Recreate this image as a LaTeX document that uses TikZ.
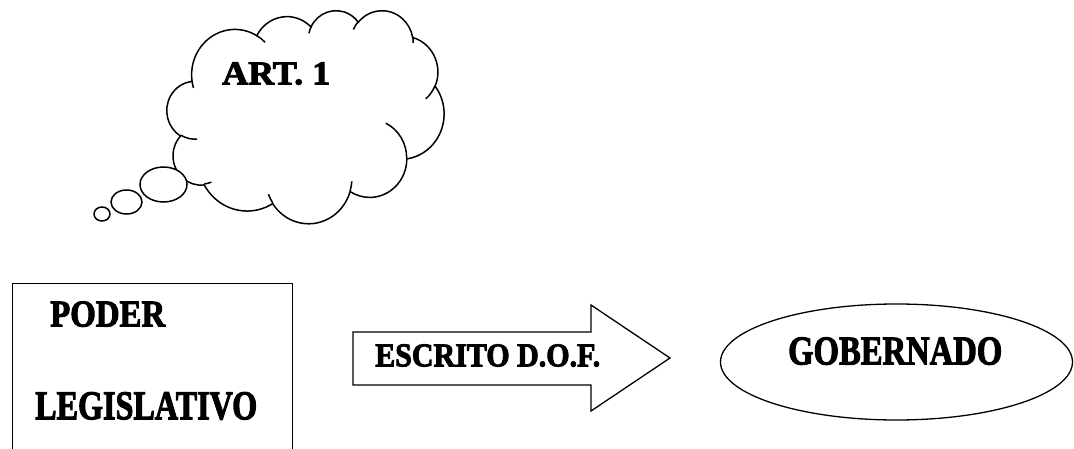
\documentclass[tikz,border=0pt]{standalone}
\usepackage{fontspec}
\usepackage{graphicx}
\usetikzlibrary{shapes.geometric}
\newfontfamily\stencil[BoldFeatures={FakeBold=2.8}]{Liberation Serif}

% elliptical arc given by radii and true (visual) start angle / sweep, y pointing down
\newcommand\ooarc[4]{arc[x radius=#1, y radius=#2,
  start angle={atan2(#1*sin(#3),#2*cos(#3))},
  delta angle={mod(atan2(#1*sin(#3+#4),#2*cos(#3+#4))-atan2(#1*sin(#3),#2*cos(#3))+720,360)}]}

\tikzset{
  outline/.style={draw=black, line width=1.3pt, fill=white},
  cloudline/.style={draw=black, line width=1.5pt},
  label/.style={inner sep=0pt, anchor=south west},
}
\newcommand\fitword[3]{\resizebox{#1pt}{#2pt}{\stencil\bfseries #3}}

\begin{document}
\begin{tikzpicture}[x=1pt, y=-1pt]
\useasboundingbox (0,0) rectangle (1074,449);
\fill[white] (0,0) rectangle (1074,449);

% thought cloud
\begin{scope}[shift={(167,10)}, x=0.6412pt, y=-0.4931pt]
  \draw[cloudline, fill=white] (39.00,143.70)
    \ooarc{67.53}{91.90}{-190.4875}{123.7805}
    \ooarc{53.33}{72.67}{-144.1024}{89.9452}
    \ooarc{43.65}{59.45}{-145.8079}{99.7230}
    \ooarc{48.57}{65.95}{-130.9861}{117.2417}
    \ooarc{53.33}{72.73}{-78.7089}{109.0269}
    \ooarc{67.75}{92.20}{-46.2673}{130.2690}
    \ooarc{57.85}{78.67}{0.6250}{114.0333}
    \ooarc{67.52}{92.15}{22.4516}{115.1726}
    \ooarc{77.20}{105.43}{66.2426}{75.7110}
    \ooarc{43.60}{59.18}{-274.9421}{146.7356}
    \ooarc{43.45}{59.45}{-246.8285}{152.5189} -- cycle;
  \draw[cloudline] (46.93,261.77) \ooarc{43.45}{59.45}{86.742}{26.4295};
  \draw[cloudline] (69.28,348.99) \ooarc{43.60}{59.18}{73.6105}{11.4475};
  \draw[cloudline] (164.78,390.90) \ooarc{67.52}{92.15}{137.6242}{14.0811};
  \draw[cloudline] (288.27,347.51) \ooarc{67.52}{92.15}{6.4533}{15.9984};
  \draw[cloudline] (341.29,229.54) \ooarc{57.85}{78.67}{-70.2924}{70.9174};
  \draw[cloudline] (417.98,153.54) \ooarc{53.33}{72.73}{30.3180}{27.7515};
  \draw[cloudline] (383.24,54.26) \ooarc{48.57}{65.95}{-13.7443}{14.8589};
  \draw[cloudline] (290.78,39.52) \ooarc{48.57}{65.95}{-149.1815}{18.1954};
  \draw[cloudline] (221.41,47.20) \ooarc{43.65}{59.45}{-163.4943}{19.5137};
  \draw[cloudline] (140.00,51.92) \ooarc{67.53}{91.90}{-66.7070}{12.3194};
  \draw[cloudline] (41.27,157.89) \ooarc{67.53}{91.90}{157.6544}{11.8582};
\end{scope}

% bubbles trailing from the cloud
\node[ellipse, cloudline, fill=white, minimum width=47pt, minimum height=35pt, inner sep=0pt] (b1) at (163.5,184.5) {};
\node[ellipse, cloudline, fill=white, minimum width=31pt, minimum height=24pt, inner sep=0pt] (b2) at (126.5,202) {};
\node[ellipse, cloudline, fill=white, minimum width=16pt, minimum height=14pt, inner sep=0pt] (b3) at (102,214) {};

\node[label] (art) at (222,85) {\fitword{108}{22}{ART. 1}};

% box of the legislative power
\node[rectangle, outline, anchor=north west, minimum width=280pt, minimum height=200pt, inner sep=0pt] (box) at (12,283) {};
\node[label] (poder) at (50,327) {\fitword{115}{25}{PODER}};
\node[label] (legis) at (35,420) {\fitword{222}{27}{LEGISLATIVO}};

% block arrow
\draw[outline] (353,332) -- (591,332) -- (591,305) -- (670,358)
  -- (591,411) -- (591,385) -- (353,385) -- cycle;
\node[label] (dof) at (375,367) {\fitword{225}{22}{ESCRITO D.O.F.}};

% governed party
\node[ellipse, outline, minimum width=352pt, minimum height=116pt, inner sep=0pt] (gob) at (896.5,362) {};
\node[label] (gobtext) at (788,365) {\fitword{214}{27}{GOBERNADO}};
\end{tikzpicture}
\end{document}
